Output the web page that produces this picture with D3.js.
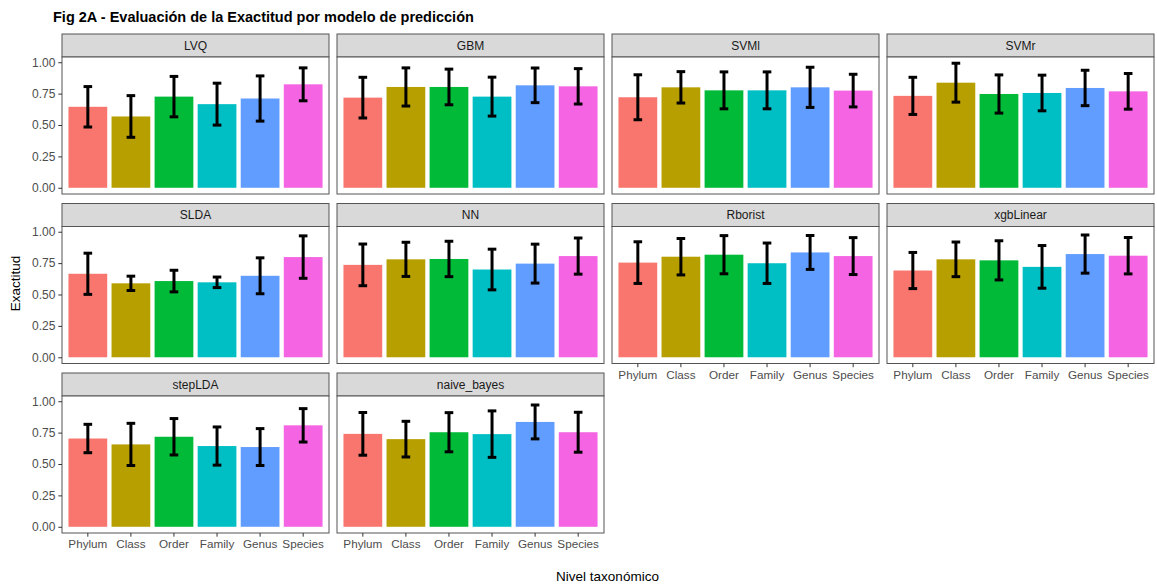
<!DOCTYPE html>
<html>
<head>
<meta charset="utf-8">
<script src="https://cdn.jsdelivr.net/npm/d3@7"></script>
<style>
  html, body { margin: 0; padding: 0; background: #ffffff; }
  svg { display: block; font-family: "Liberation Sans", Arial, Helvetica, sans-serif; }
</style>
</head>
<body>
<svg id="chart" width="1157" height="587"></svg>
<script>
// Taxonomic levels on the x axis
const categories = ["Phylum", "Class", "Order", "Family", "Genus", "Species"];
const yTicks = [0, 0.25, 0.5, 0.75, 1];

// Mean accuracy and its deviation per model, one value per taxonomic level
const LVQ_mean         = [0.645, 0.568, 0.726, 0.666, 0.711, 0.824];
const LVQ_sd           = [0.161, 0.166, 0.161, 0.167, 0.180, 0.131];
const GBM_mean         = [0.718, 0.803, 0.803, 0.726, 0.816, 0.808];
const GBM_sd           = [0.162, 0.152, 0.142, 0.155, 0.138, 0.141];
const SVMl_mean        = [0.721, 0.800, 0.776, 0.776, 0.800, 0.774];
const SVMl_sd          = [0.179, 0.125, 0.147, 0.147, 0.160, 0.130];
const SVMr_mean        = [0.732, 0.837, 0.747, 0.755, 0.795, 0.768];
const SVMr_sd          = [0.148, 0.155, 0.152, 0.142, 0.141, 0.142];
const SLDA_mean        = [0.665, 0.589, 0.607, 0.597, 0.649, 0.798];
const SLDA_sd          = [0.164, 0.057, 0.086, 0.042, 0.143, 0.169];
const NN_mean          = [0.736, 0.780, 0.783, 0.699, 0.746, 0.806];
const NN_sd            = [0.166, 0.136, 0.141, 0.162, 0.155, 0.144];
const Rborist_mean     = [0.754, 0.801, 0.817, 0.749, 0.835, 0.806];
const Rborist_sd       = [0.166, 0.145, 0.152, 0.161, 0.135, 0.147];
const xgbLinear_mean   = [0.691, 0.780, 0.772, 0.720, 0.822, 0.809];
const xgbLinear_sd     = [0.144, 0.138, 0.156, 0.170, 0.152, 0.145];
const stepLDA_mean     = [0.703, 0.656, 0.717, 0.643, 0.635, 0.808];
const stepLDA_sd       = [0.113, 0.168, 0.145, 0.152, 0.147, 0.133];
const naive_bayes_mean = [0.740, 0.698, 0.753, 0.738, 0.835, 0.753];
const naive_bayes_sd   = [0.170, 0.142, 0.156, 0.185, 0.135, 0.159];

const models = ["LVQ", "GBM", "SVMl", "SVMr", "SLDA", "NN", "Rborist", "xgbLinear", "stepLDA", "naive_bayes"];
const means = [LVQ_mean, GBM_mean, SVMl_mean, SVMr_mean, SLDA_mean, NN_mean, Rborist_mean, xgbLinear_mean, stepLDA_mean, naive_bayes_mean];
const sds   = [LVQ_sd, GBM_sd, SVMl_sd, SVMr_sd, SLDA_sd, NN_sd, Rborist_sd, xgbLinear_sd, stepLDA_sd, naive_bayes_sd];

const colors = ["#F8766D", "#B79F00", "#00BA38", "#00BFC4", "#619CFF", "#F564E3"];

// Facet grid layout
const nCol = 4;
const panelLeft = 62, panelW = 267, gapX = 8;
const rowTop = [34, 203.5, 373];
const stripH = 23, panelH = 137;

const svg = d3.select("#chart");

// Shared scales
const x = d3.scaleBand().domain(categories).range([0, panelW])
  .paddingInner(0.1).paddingOuter(0.15);
const color = d3.scaleOrdinal().domain(categories).range(colors);
const yMax = d3.max(means.flatMap((m, i) => m.map((v, j) => v + sds[i][j])));
const y = d3.scaleLinear().domain([-0.05 * yMax, 1.05 * yMax]).range([panelH, 0]);

// Title
svg.append("text")
  .attr("x", 53).attr("y", 22)
  .attr("font-size", 14.5).attr("font-weight", "bold").attr("fill", "#000")
  .text("Fig 2A - Evaluación de la Exactitud por modelo de predicción");

models.forEach((name, i) => {
  const col = i % nCol, row = Math.floor(i / nCol);
  const px = panelLeft + col * (panelW + gapX);
  const sy = rowTop[row];
  const py = sy + stripH;

  // Strip
  svg.append("rect")
    .attr("x", px).attr("y", sy).attr("width", panelW).attr("height", stripH)
    .attr("fill", "#D9D9D9").attr("stroke", "#555").attr("stroke-width", 1);
  svg.append("text")
    .attr("x", px + panelW / 2).attr("y", sy + stripH / 2 + 4.2)
    .attr("text-anchor", "middle").attr("font-size", 12).attr("fill", "#1A1A1A")
    .text(name);

  const g = svg.append("g").attr("transform", `translate(${px},${py})`);
  g.append("rect").attr("width", panelW).attr("height", panelH).attr("fill", "#fff");

  const data = categories.map((c, j) => ({ c, m: means[i][j], s: sds[i][j] }));

  // Bars
  g.selectAll("rect.bar").data(data).join("rect")
    .attr("class", "bar")
    .attr("x", d => x(d.c))
    .attr("width", x.bandwidth())
    .attr("y", d => y(d.m))
    .attr("height", d => y(0) - y(d.m))
    .attr("fill", d => color(d.c));

  // Error bars
  const capW = x.step() * 0.2;
  const cx = d => x(d.c) + x.bandwidth() / 2;
  const eb = g.selectAll("g.err").data(data).join("g").attr("class", "err")
    .attr("stroke", "#000").attr("stroke-width", 3).attr("fill", "none");
  eb.append("line")
    .attr("x1", cx).attr("x2", cx)
    .attr("y1", d => y(d.m - d.s)).attr("y2", d => y(d.m + d.s));
  eb.append("line")
    .attr("x1", d => cx(d) - capW / 2).attr("x2", d => cx(d) + capW / 2)
    .attr("y1", d => y(d.m + d.s)).attr("y2", d => y(d.m + d.s));
  eb.append("line")
    .attr("x1", d => cx(d) - capW / 2).attr("x2", d => cx(d) + capW / 2)
    .attr("y1", d => y(d.m - d.s)).attr("y2", d => y(d.m - d.s));

  // Panel border
  g.append("rect").attr("width", panelW).attr("height", panelH)
    .attr("fill", "none").attr("stroke", "#555").attr("stroke-width", 1);

  // Y axis on first column
  if (col === 0) {
    const ya = g.append("g").call(d3.axisLeft(y).tickValues(yTicks).tickFormat(d3.format(".2f")).tickSize(3.7).tickPadding(3));
    ya.select(".domain").remove();
    ya.selectAll(".tick line").attr("stroke", "#333");
    ya.selectAll(".tick text").attr("fill", "#4D4D4D").attr("font-size", 12)
      .attr("font-family", "Liberation Sans, Arial, sans-serif");
  }

  // X axis on the lowest panel of each column
  const isBottom = (i + nCol) >= models.length;
  if (isBottom) {
    const xa = g.append("g").attr("transform", `translate(0,${panelH})`)
      .call(d3.axisBottom(x).tickSize(3.7).tickPadding(3));
    xa.select(".domain").remove();
    xa.selectAll(".tick line").attr("stroke", "#333");
    xa.selectAll(".tick text").attr("fill", "#4D4D4D").attr("font-size", 11.7)
      .attr("font-family", "Liberation Sans, Arial, sans-serif");
  }
});

// Axis titles
svg.append("text")
  .attr("transform", `translate(20,283.5) rotate(-90)`)
  .attr("text-anchor", "middle").attr("font-size", 13.5).attr("fill", "#000")
  .text("Exactitud");
svg.append("text")
  .attr("x", 607.5).attr("y", 581)
  .attr("text-anchor", "middle").attr("font-size", 13.5).attr("fill", "#000")
  .text("Nivel taxonómico");
</script>
</body>
</html>
